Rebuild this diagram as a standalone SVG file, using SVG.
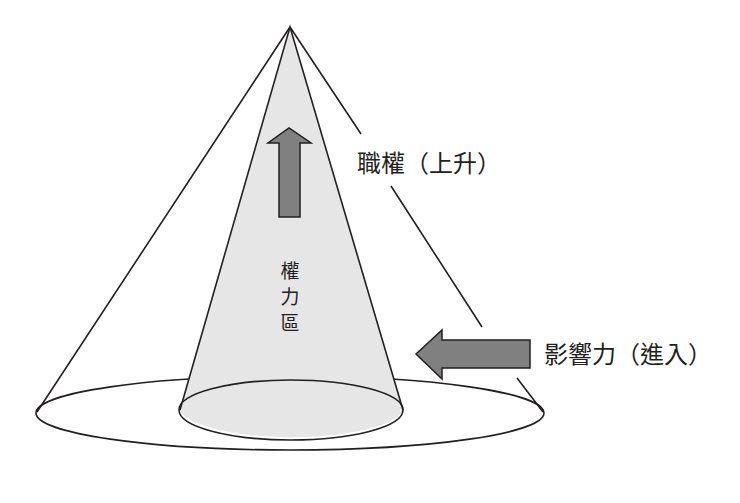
<svg xmlns="http://www.w3.org/2000/svg" width="740" height="503" viewBox="0 0 740 503">
<style>
.l{stroke:#231f20;stroke-width:1.6;fill:none}
.a{fill:#808080;stroke:#231f20;stroke-width:1.5}
.t{font-family:"Noto Sans CJK TC","Noto Sans CJK SC",sans-serif;fill:#231f20}
</style>
<rect width="740" height="503" fill="#fff"/>
<g id="outer-cone">
<ellipse cx="290" cy="413" rx="254" ry="37" class="l"/>
<path class="l" d="M290 27 L37 412 M290 27 L361 134 M391 186 L482 327 M517 378 L543 412"/>
</g>
<g id="power-zone">
<path d="M290 27 L180 410 A112 30 0 0 0 403 410 Z" fill="#e6e6e6"/>
<path class="l" d="M180 410 L290 27 L403 410"/>
<ellipse cx="291" cy="410" rx="112" ry="30" class="l"/>
<text class="t" font-size="19" text-anchor="middle"><tspan x="290" y="278">權</tspan><tspan x="290" y="304">力</tspan><tspan x="290" y="330">區</tspan></text>
</g>
<g id="connectors">
<path class="a" d="M279 217 L279 143 L268 143 L289 128 L311 143 L300 143 L300 217 Z"/>
<path class="a" d="M530 340 L442 340 L442 330 L416 354 L442 379 L442 368 L530 368 Z"/>
</g>
<g id="label-authority"><text class="t" x="357" y="172" font-size="24">職權（上升）</text></g>
<g id="label-influence"><text class="t" x="544" y="363" font-size="24">影響力（進入）</text></g>
</svg>
